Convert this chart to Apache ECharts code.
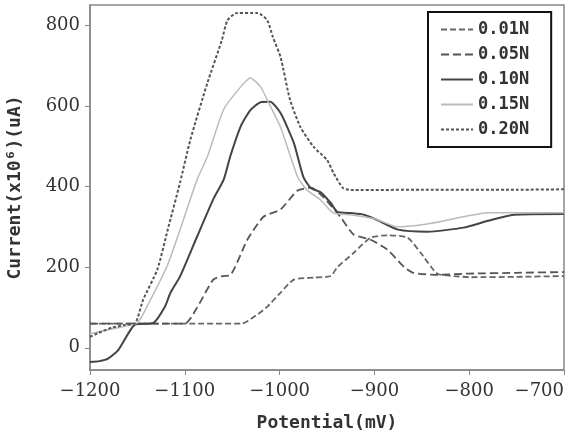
<!DOCTYPE html>
<html>
<head>
<meta charset="utf-8">
<script src="https://cdn.jsdelivr.net/npm/echarts@6/dist/echarts.min.js"></script>
<style>html,body{margin:0;padding:0;background:#fff}#c{width:575px;height:432px}</style>
</head>
<body>
<div id="c"></div>
<script>
const seriesNames = ['0.01N', '0.05N', '0.10N', '0.15N', '0.20N'];
const xTicks = [-1200, -1100, -1000, -900, -800, -700];
const yTicks = [0, 200, 400, 600, 800];

const s001 = [[-1200,60],[-1040,60],[-1025,80],[-1013,102],[-999,137],[-985,169],[-964,174],[-946,178],[-939,200],[-922,235],[-904,273],[-886,279],[-865,273],[-851,235],[-840,200],[-833,183],[-816,178],[-798,175],[-750,176],[-700,178]];
const s005 = [[-1200,60],[-1100,60],[-1087,100],[-1070,169],[-1060,178],[-1052,180],[-1034,268],[-1017,325],[-999,343],[-981,390],[-967,397],[-954,374],[-936,325],[-922,281],[-904,268],[-886,243],[-869,201],[-859,186],[-833,181],[-800,184],[-750,186],[-700,188]];
const s010 = [[-1200,-35],[-1190,-33],[-1181,-27],[-1170,-5],[-1153,57],[-1133,62],[-1121,102],[-1115,137],[-1105,177],[-1087,276],[-1070,368],[-1059,417],[-1052,475],[-1041,549],[-1031,589],[-1020,609],[-1010,610],[-999,582],[-985,508],[-975,424],[-967,396],[-957,386],[-946,359],[-939,337],[-925,334],[-911,330],[-897,317],[-875,293],[-844,288],[-806,298],[-780,315],[-753,330],[-700,332]];
const s015 = [[-1200,35],[-1175,48],[-1150,62],[-1140,102],[-1119,201],[-1105,293],[-1087,417],[-1076,475],[-1059,591],[-1041,647],[-1031,669],[-1020,647],[-1013,614],[-999,547],[-981,424],[-971,391],[-957,367],[-943,334],[-925,330],[-900,320],[-875,300],[-850,305],[-830,313],[-806,325],[-780,335],[-750,335],[-700,335]];
const s020 = [[-1200,27],[-1191,37],[-1177,50],[-1163,57],[-1152,62],[-1144,119],[-1129,194],[-1118,293],[-1105,410],[-1094,517],[-1076,658],[-1061,762],[-1055,812],[-1045,830],[-1023,830],[-1013,812],[-1007,770],[-999,721],[-989,615],[-978,547],[-964,498],[-950,466],[-943,433],[-933,396],[-922,391],[-850,392],[-750,392],[-700,393]];

const chart = echarts.init(document.getElementById('c'), null, {renderer: 'canvas'});
const lbl = {fontFamily: 'DejaVu Serif', fontSize: 18, color: '#333'};
const nameFont = {fontFamily: 'DejaVu Sans Mono', fontSize: 18, fontWeight: 'bold', color: '#333'};
function mk(name, data, color, type, width) {
  return {name: name, type: 'line', data: data, symbol: 'none', smooth: 0.2, animation: false,
    lineStyle: {color: color, type: type, width: width}, itemStyle: {color: color}};
}
chart.setOption({
  backgroundColor: '#fff',
  animation: false,
  grid: {left: 90, right: 11, top: 5, bottom: 62, containLabel: false, outerBoundsMode: 'none',
    show: true, borderColor: '#888', borderWidth: 1.5},
  legend: {
    data: seriesNames, orient: 'vertical', left: 428, top: 12,
    itemWidth: 32, itemHeight: 14, itemGap: 8,
    padding: [9, 22, 9, 12],
    borderColor: '#111', borderWidth: 2, backgroundColor: '#fff',
    itemStyle: {opacity: 0},
    textStyle: {fontFamily: 'DejaVu Sans Mono', fontSize: 17, fontWeight: 'bold', color: '#333'}
  },
  xAxis: {
    type: 'value', min: xTicks[0], max: xTicks[xTicks.length-1], interval: 100,
    name: 'Potential(mV)', nameLocation: 'middle', nameGap: 44, nameTextStyle: nameFont,
    axisLine: {show: true, onZero: false, lineStyle: {color: '#888', width: 1.5}},
    axisTick: {show: true, inside: false, length: 5, lineStyle: {color: '#888'}},
    axisLabel: Object.assign({margin: 12, alignMaxLabel: 'right',
      formatter: function (v) { return String(v).replace('-', '\u2212'); }}, lbl),
    splitLine: {show: false}
  },
  yAxis: {
    type: 'value', min: -55, max: 850,
    name: 'Current(x10\u2076)(uA)', nameLocation: 'middle', nameGap: 66, nameTextStyle: nameFont,
    axisLine: {show: true, onZero: false, lineStyle: {color: '#888', width: 1.5}},
    axisTick: {show: true, inside: false, length: 5, lineStyle: {color: '#888'}, customValues: yTicks},
    axisLabel: Object.assign({margin: 10, customValues: yTicks}, lbl),
    splitLine: {show: false}
  },
  series: [
    mk(seriesNames[0], s001, '#666', [6, 3], 1.8),
    mk(seriesNames[1], s005, '#555', [8, 4], 1.8),
    mk(seriesNames[2], s010, '#444', 'solid', 2),
    mk(seriesNames[3], s015, '#bbb', 'solid', 1.5),
    mk(seriesNames[4], s020, '#555', [3, 2], 2)
  ]
});
</script>
</body>
</html>
